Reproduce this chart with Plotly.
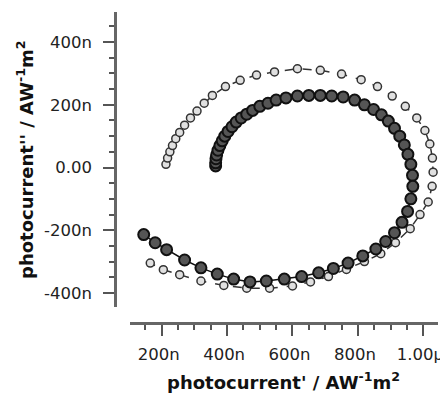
import plotly.graph_objects as go

# Series 1 (filled circles, solid line) — values in n units
s1_re = [365, 365, 366, 368, 372, 378, 385, 393, 403, 415, 428, 443, 460, 478, 500, 525, 550, 580,
         615, 650, 685, 720, 755, 790, 820, 848, 872, 893, 912, 928, 942, 953, 962, 967, 968, 962,
         952, 935, 912, 885, 855, 815, 770, 725, 680, 628, 575, 520, 470, 420, 370, 320, 270, 215,
         180, 145]
s1_im = [5, 15, 28, 40, 55, 70, 85, 100, 115, 130, 145, 158, 170, 182, 195, 205, 215, 222,
         228, 230, 230, 228, 225, 215, 200, 185, 168, 148, 125, 100, 72, 42, 10, -25, -60, -100,
         -140, -175, -208, -236, -260, -282, -305, -322, -336, -348, -356, -362, -365, -356, -340, -320, -295, -262,
         -240, -214]

# Series 2 (open circles, dashed line)
s2_re = [213, 218, 225, 233, 243, 255, 270, 288, 308, 330, 355, 395, 440, 490, 545, 615, 685, 750,
         810, 860, 905, 945, 980, 1005, 1020, 1028, 1030, 1027, 1015, 990, 960, 915, 870, 820, 765,
         710, 655, 600, 530, 460, 390, 320, 255, 205, 165]
s2_im = [10, 30, 50, 70, 92, 112, 135, 158, 180, 205, 230, 258, 278, 295, 305, 315, 310, 298,
         280, 258, 228, 195, 158, 118, 75, 30, -15, -60, -110, -150, -195, -240, -275, -300, -325,
         -348, -365, -378, -385, -385, -376, -362, -342, -326, -305]

x_tickvals = [200, 400, 600, 800, 1000]
x_ticktext = ["200n", "400n", "600n", "800n", "1.00\u00b5"]
y_tickvals = [-400, -200, 0, 200, 400]
y_ticktext = ["-400n", "-200n", "0.00", "200n", "400n"]

fig = go.Figure()
fig.add_trace(go.Scatter(
    x=s2_re, y=s2_im, mode="lines+markers",
    line=dict(color="#333333", width=1.5, dash="dash"),
    marker=dict(symbol="circle", size=8, color="#e0e0e0", line=dict(color="#333333", width=1.5)),
    showlegend=False))
fig.add_trace(go.Scatter(
    x=s1_re, y=s1_im, mode="lines+markers",
    line=dict(color="#111111", width=1.5),
    marker=dict(symbol="circle", size=11, color="#555555", line=dict(color="#111111", width=2)),
    showlegend=False))

axis_font = dict(family="DejaVu Sans, sans-serif", size=16.5, color="#222222")

# page body has an 8px default margin, so the figure is 8px smaller and margins shifted
fig.update_layout(
    width=440, height=386,
    margin=dict(l=107, r=10, t=4, b=71),
    paper_bgcolor="white", plot_bgcolor="white",
    xaxis=dict(
        domain=[0.0474, 1], anchor="free", position=0, automargin=False,
        range=[104, 1045], showgrid=False, zeroline=False,
        showline=True, linecolor="#666666", linewidth=2.5,
        tickmode="array", tickvals=x_tickvals, ticktext=x_ticktext,
        ticks="outside", ticklen=11, tickwidth=2, tickcolor="#555555",
        minor=dict(dtick=50, tick0=0, ticks="outside", ticklen=5, tickwidth=2, tickcolor="#555555"),
        tickfont=axis_font, ticklabelstandoff=4, ticklabelshift=-3,
    ),
    yaxis=dict(
        domain=[0.0514, 1], anchor="free", position=0, automargin=False,
        range=[-445, 496], showgrid=False, zeroline=False,
        showline=True, linecolor="#666666", linewidth=2.5,
        tickmode="array", tickvals=y_tickvals, ticktext=y_ticktext,
        ticks="outside", ticklen=11, tickwidth=2, tickcolor="#555555",
        minor=dict(dtick=50, tick0=0, ticks="outside", ticklen=5, tickwidth=2, tickcolor="#555555"),
        tickfont=axis_font, ticklabelstandoff=8,
    ),
    annotations=[
        dict(text="<b>photocurrent' / AW<sup>-1</sup>m<sup>2</sup></b>",
             xref="paper", yref="paper", x=(283 - 115) / 323, y=-(381 - 323) / 311,
             xanchor="center", yanchor="middle", showarrow=False,
             font=dict(family="DejaVu Sans, sans-serif", size=18, color="#111111")),
        dict(text="<b>photocurrent'' / AW<sup>-1</sup>m<sup>2</sup></b>",
             xref="paper", yref="paper", x=-(115 - 25) / 323, y=(323 - 160) / 311,
             xanchor="center", yanchor="middle", showarrow=False, textangle=-90,
             font=dict(family="DejaVu Sans, sans-serif", size=18, color="#111111")),
    ],
)

fig.write_html("out.html")
